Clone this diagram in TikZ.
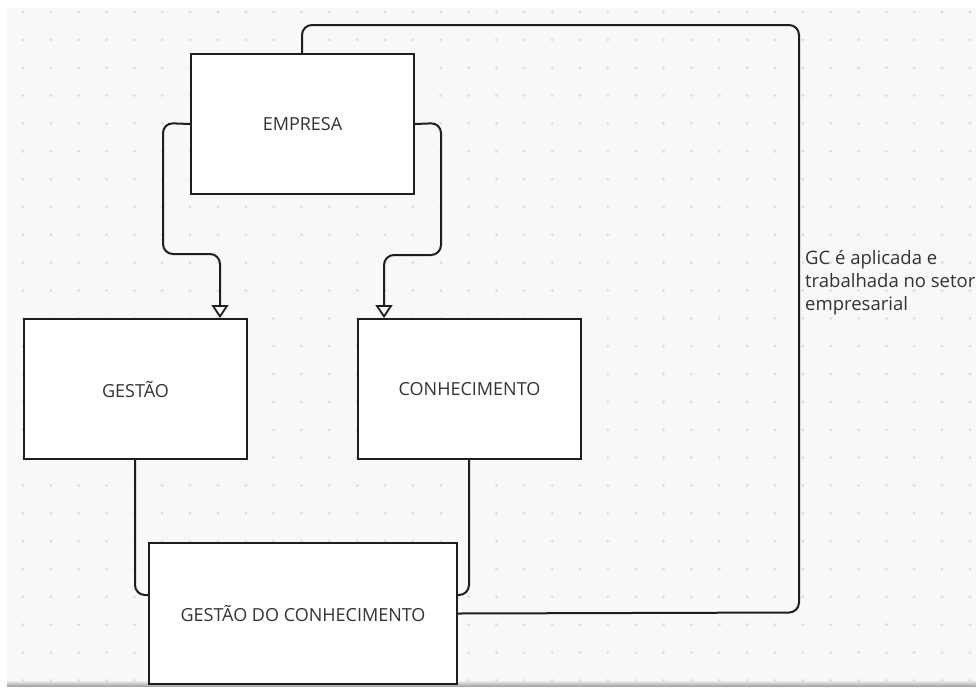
\documentclass[tikz,border=0pt]{standalone}
\usepackage{fontspec}
\setmainfont{Open Sans}
\usetikzlibrary{arrows.meta}
\definecolor{bg}{HTML}{F8F8FA}
\definecolor{dotc}{HTML}{DDDDE0}
\definecolor{ln}{HTML}{1E1E1E}
\definecolor{txt}{HTML}{333333}
\begin{document}
\begin{tikzpicture}[x=1pt,y=-1pt,
  box/.style={draw=ln,line width=2pt,fill=white,inner sep=0pt,
    font=\fontsize{18}{21}\selectfont,text=txt},
  conn/.style={draw=ln,line width=2pt,rounded corners=10pt},
  tipopen/.style={-{Triangle[open,width=17pt,length=13pt,line width=1.8pt]}}]
\useasboundingbox (0,0) rectangle (976,688);
\fill[white] (0,0) rectangle (976,688);
\fill[bg] (7,8) rectangle (976,684);
\shade[top color=bg,bottom color=black!35] (7,680) rectangle (976,686);
\foreach \i in {0,...,34}{
  \foreach \j in {0,...,24}{
    \fill[dotc] ({23+27.85*\i},{12+27.85*\j}) circle (1.6);
  }
}
\node[box,minimum width=223pt,minimum height=140pt,anchor=north west] (emp) at (190,53) {EMPRESA};
\node[box,minimum width=223pt,minimum height=140pt,anchor=north west] (ges) at (23,318) {GESTÃO};
\node[box,minimum width=223pt,minimum height=140pt,anchor=north west] (con) at (357,318) {CONHECIMENTO};
\node[box,minimum width=308pt,minimum height=141pt,anchor=north west] (gdc) at (148,542) {GESTÃO DO CONHECIMENTO};
\draw[conn,tipopen] (emp.west) -- (163,123) -- (163,254) -- (220,254) -- (220,0 |- ges.north);
\draw[conn,tipopen] (emp.east) -- (441,123) -- (441,255) -- (384,255) -- (384,0 |- con.north);
\draw[conn] (135,0 |- ges.south) -- (135,595) -- (gdc.west |- 0,595);
\draw[conn] (469,0 |- con.south) -- (469,595) -- (gdc.east |- 0,595);
\draw[conn] (gdc.east) -- (799,612.5) -- (799,25) -- (302,25) -- (302,0 |- emp.north);
\node[anchor=north west,align=left,inner sep=0pt,text=txt,
  font=\fontsize{18.5}{23}\selectfont] (lbl) at (805,250) {GC é aplicada e\\trabalhada no setor\\empresarial};
\end{tikzpicture}
\end{document}
